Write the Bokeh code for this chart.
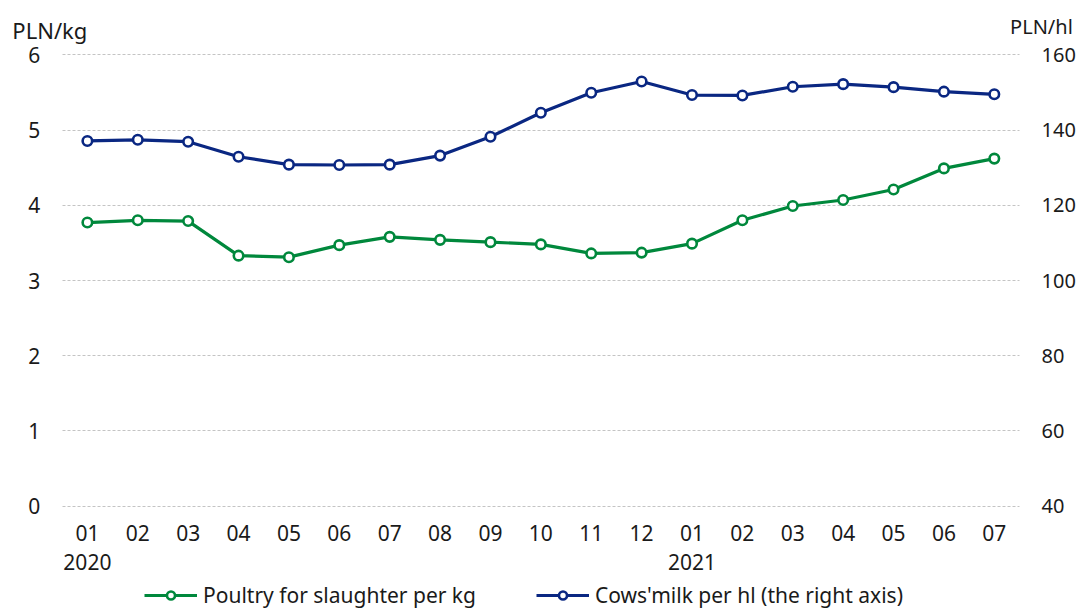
from bokeh.plotting import figure
from bokeh.models import (Range1d, LinearAxis, FixedTicker, Label, Grid,
                          Legend, LegendItem, ColumnDataSource)
from bokeh.embed import file_html
from bokeh.resources import INLINE

# ---- data ----
months = ["01", "02", "03", "04", "05", "06", "07", "08", "09", "10", "11", "12",
          "01", "02", "03", "04", "05", "06", "07"]
years = ["2020"] * 12 + ["2021"] * 7
poultry = [3.77, 3.80, 3.79, 3.33, 3.31, 3.47, 3.58, 3.54, 3.51, 3.48, 3.36, 3.37,
           3.49, 3.80, 3.99, 4.07, 4.21, 4.49, 4.62]
milk = [137.1, 137.4, 136.9, 132.9, 130.8, 130.7, 130.8, 133.2, 138.2, 144.6, 149.9, 152.9,
        149.3, 149.2, 151.5, 152.2, 151.4, 150.2, 149.5]
left_ticks = [0, 1, 2, 3, 4, 5, 6]
right_ticks = [40, 60, 80, 100, 120, 140, 160]
poultry_label = "Poultry for slaughter per kg"
milk_label = "Cows'milk per hl (the right axis)"

GREEN = "#00883C"
BLUE = "#0A2782"
FONT = "Noto Sans"
TXT = "#1a1a1a"

W, H = 1078, 608
# plot area inside the canvas (pixels)
PX0, PX1, PY_TOP, PY_BOT = 61.7, 1019.0, 54.3, 505.7

n = len(months)
xpos = [i + 0.5 for i in range(n)]
month_over = {xpos[i]: m for i, m in enumerate(months)}
year_idx = [i for i in range(n) if i == 0 or years[i] != years[i - 1]]
year_pos = [xpos[i] for i in year_idx]
year_over = {xpos[i]: years[i] for i in year_idx}

lo, hi = left_ticks[0], left_ticks[-1]
rlo, rhi = right_ticks[0], right_ticks[-1]
kx = (PX1 - PX0) / n
ky = (PY_BOT - PY_TOP) / (hi - lo)
x_start, x_end = -PX0 / kx, n + (W - PX1) / kx
y_start, y_end = lo - (H - PY_BOT) / ky, hi + PY_TOP / ky
r = (rhi - rlo) / (hi - lo)

src = ColumnDataSource(dict(x=xpos, poultry=poultry, milk=milk))

p = figure(width=W, height=H, x_range=Range1d(x_start, x_end),
           y_range=Range1d(y_start, y_end), output_backend="svg", toolbar_location=None,
           min_border=0, min_border_left=0, min_border_right=0,
           min_border_top=0, min_border_bottom=0)
p.extra_y_ranges = {"right": Range1d(rlo + (y_start - lo) * r, rlo + (y_end - lo) * r)}
p.outline_line_color = None
p.background_fill_color = "white"
p.border_fill_color = "white"

p.xgrid.grid_line_color = None
p.ygrid.grid_line_color = None

grid = Grid(dimension=1, ticker=FixedTicker(ticks=left_ticks),
            grid_line_color="#c4c4c4", grid_line_dash="3 2", grid_line_width=1)
if "cross_bounds" in Grid.properties():
    grid.cross_bounds = (0, n)
    p.add_layout(grid)
else:
    p.segment(x0=[0] * len(left_ticks), x1=[n] * len(left_ticks), y0=left_ticks,
              y1=left_ticks, line_color="#c4c4c4", line_dash="3 2", line_width=1)

def style_axis(ax, standoff, size="21px"):
    ax.axis_line_color = None
    ax.major_tick_line_color = None
    ax.minor_tick_line_color = None
    ax.major_tick_out = 0
    ax.major_tick_in = 0
    ax.minor_tick_out = 0
    ax.minor_tick_in = 0
    ax.major_label_text_font = FONT
    ax.major_label_text_font_size = size
    ax.major_label_text_color = TXT
    ax.major_label_standoff = standoff

p.yaxis.ticker = FixedTicker(ticks=left_ticks)
p.yaxis.fixed_location = 0
style_axis(p.yaxis[0], 22)

raxis = LinearAxis(y_range_name="right", ticker=FixedTicker(ticks=right_ticks),
                   fixed_location=n)
style_axis(raxis, 22, "20px")
p.add_layout(raxis, "right")

p.xaxis.ticker = FixedTicker(ticks=xpos)
p.xaxis.fixed_location = lo
p.xaxis.major_label_overrides = month_over
style_axis(p.xaxis[0], 19)

year_axis = LinearAxis(ticker=FixedTicker(ticks=year_pos), major_label_overrides=year_over,
                       fixed_location=lo)
style_axis(year_axis, 48)
p.add_layout(year_axis, "below")

l1 = p.line("x", "poultry", source=src, color=GREEN, line_width=3.2)
s1 = p.scatter("x", "poultry", source=src, size=9.5, fill_color="white",
               line_color=GREEN, line_width=2.6)
l2 = p.line("x", "milk", source=src, color=BLUE, line_width=3.2, y_range_name="right")
s2 = p.scatter("x", "milk", source=src, size=9.5, fill_color="white",
               line_color=BLUE, line_width=2.6, y_range_name="right")

p.add_layout(Label(x=-0.99, y=hi, y_offset=25, text="PLN/kg", text_font=FONT,
                   text_font_size="22px", text_color=TXT, text_align="left",
                   text_baseline="alphabetic"))
p.add_layout(Label(x=n + 1.058, y=hi, y_offset=28.5, text="PLN/hl", text_font=FONT,
                   text_font_size="20px", text_color=TXT, text_align="right",
                   text_baseline="alphabetic"))

legend = Legend(items=[LegendItem(label=poultry_label, renderers=[l1, s1]),
                       LegendItem(label=milk_label, renderers=[l2, s2])],
                orientation="horizontal", location=(144, -1),
                border_line_color=None, background_fill_alpha=0,
                label_text_font=FONT, label_text_font_size="21px", label_text_color=TXT,
                glyph_width=53, glyph_height=20, label_standoff=6, spacing=60,
                padding=0, margin=0, label_height=20)
p.add_layout(legend, "center")

open("out.html", "w").write(file_html(p, INLINE))
